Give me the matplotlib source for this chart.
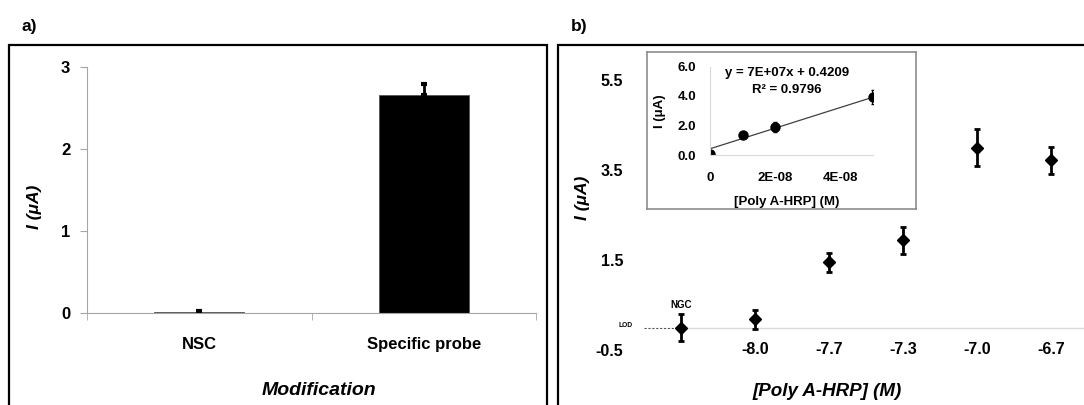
import numpy as np
import matplotlib
matplotlib.use('Agg')
import matplotlib.pyplot as plt
from matplotlib.patches import Rectangle

plt.rcParams['font.family'] = ['Liberation Sans', 'DejaVu Sans']
plt.rcParams['font.weight'] = 'bold'

# panel a data
mod_labels = ['NSC', 'Specific probe']
mod_values = [0.01, 2.65]
mod_err = [0.01, 0.14]

# panel b data
conc_labels = ['', '-8.0', '-7.7', '-7.3', '-7.0', '-6.7']
conc_values = [0.0, 0.18, 1.45, 1.94, 4.0, 3.72]
conc_err = [0.31, 0.21, 0.21, 0.30, 0.40, 0.30]

# inset data
lin_x = [0, 1e-8, 2e-8, 5e-8]
lin_y = [0.05, 1.36, 1.88, 3.93]
lin_err = [0.04, 0.08, 0.33, 0.45]
slope = 7e7
intercept = 0.4209

W, H = 1084, 405
fig = plt.figure(figsize=(W / 100, H / 100), dpi=100)


def box(x0, y0, x1, y1):
    # pixel box (top-left origin) -> figure fraction rect
    return [x0 / W, (H - y1) / H, (x1 - x0) / W, (y1 - y0) / H]


# panel frames
for x0, x1 in [(9, 547), (558, 1090)]:
    fig.patches.append(Rectangle((x0 / W, -0.1), (x1 - x0) / W, (H - 45) / H + 0.1,
                                 transform=fig.transFigure, fill=False,
                                 edgecolor='black', linewidth=1.6))
fig.text(22 / W, 1 - 26 / H, 'a)', fontsize=12.5, fontweight='bold', va='center')
fig.text(571 / W, 1 - 26 / H, 'b)', fontsize=12.5, fontweight='bold', va='center')

# ---- panel a ----
ax = fig.add_axes(box(87, 66.7, 536, 312.7))
xa = np.arange(len(mod_labels))
ax.bar(xa, mod_values, width=0.4, color='black', edgecolor='#555555', linewidth=0.6)
ax.errorbar(xa, mod_values, yerr=[[0, 0], mod_err], fmt='none', ecolor='black',
            elinewidth=2, capsize=2, capthick=3)
ax.set_xlim(-0.5, 1.5)
ax.set_ylim(0, 3)
ax.set_yticks([0, 1, 2, 3])
ax.set_xticks(xa)
ax.set_xticklabels(mod_labels)
ax.set_xticks([-0.5, 0.5, 1.5], minor=True)
for s in ['top', 'right']:
    ax.spines[s].set_visible(False)
for s in ['left', 'bottom']:
    ax.spines[s].set_color('#a6a6a6')
ax.tick_params(axis='y', colors='#a6a6a6', length=5, labelsize=12, labelcolor='black', pad=7)
ax.tick_params(axis='x', which='major', length=0, labelsize=12, pad=23)
ax.tick_params(axis='x', which='minor', colors='#a6a6a6', length=5)
for lbl in ax.get_xticklabels():
    lbl.set_va('center')
ax.set_ylabel('I (μA)', fontsize=12.5, fontstyle='italic', fontweight='bold')
ax.yaxis.set_label_coords(-0.10, 0.43)
ax.set_xlabel('Modification', fontsize=14, fontstyle='italic', fontweight='bold')
ax.xaxis.set_label_coords(0.517, -0.315)
ax.xaxis.label.set_va('center')

# ---- panel b ----
bx = fig.add_axes(box(644, 80, 1088, 350))
xb = np.arange(len(conc_labels))
bx.axhline(0, xmin=0.5 / 6, xmax=1, color='#d9d9d9', linewidth=1)
bx.axhline(0, xmin=0, xmax=0.5 / 6, color='#555555', linewidth=0.8, linestyle=(0, (2, 1.5)))
bx.errorbar(xb, conc_values, yerr=conc_err, fmt='D', color='black', ms=6.5,
            elinewidth=2, capsize=2, capthick=2)
bx.set_xlim(-0.5, 5.5)
bx.set_ylim(-0.5, 5.5)
bx.set_yticks([-0.5, 1.5, 3.5, 5.5])
bx.set_yticklabels(['-0.5', '1.5', '3.5', '5.5'])
bx.set_xticks(xb[1:])
bx.set_xticklabels(conc_labels[1:])
for s in bx.spines.values():
    s.set_visible(False)
bx.tick_params(axis='y', length=0, labelsize=11.5, pad=15)
bx.tick_params(axis='x', length=0, labelsize=11.5, pad=0)
for lbl in bx.get_xticklabels():
    lbl.set_va('center')
bx.set_ylabel('I (μA)', fontsize=12.5, fontstyle='italic', fontweight='bold')
bx.yaxis.set_label_coords(-0.122, 0.565)
bx.set_xlabel('[Poly A-HRP] (M)', fontsize=13.5, fontstyle='italic', fontweight='bold')
bx.xaxis.set_label_coords(0.412, -0.155)
bx.xaxis.label.set_va('center')
bx.annotate('NGC', (xb[0], conc_values[0]), xytext=(0, 16), textcoords='offset points',
            ha='center', va='center', fontsize=7, fontweight='bold')
bx.annotate('LOD', (-0.5, 0), xytext=(-13, 1.5), textcoords='offset points',
            ha='center', va='center', fontsize=4.8, fontweight='bold', annotation_clip=False)

# ---- inset ----
frame = fig.add_axes(box(647, 52, 916, 209))
frame.set_xticks([])
frame.set_yticks([])
for s in frame.spines.values():
    s.set_color('#8c8c8c')
    s.set_linewidth(1.2)

ix = fig.add_axes(box(710, 66.5, 873, 155))
ix.patch.set_alpha(0)
fit_x = np.array([min(lin_x), max(lin_x)])
ix.plot(fit_x, slope * fit_x + intercept, color='#404040', linewidth=0.9)
ix.errorbar(lin_x, lin_y, yerr=lin_err, fmt='o', color='black', ms=6.5,
            elinewidth=1.5, capsize=1.5)
ix.set_xlim(0, 5e-8)
ix.set_ylim(0, 6)
ix.set_yticks([0, 2, 4, 6])
ix.set_yticklabels(['0.0', '2.0', '4.0', '6.0'])
ix.set_xticks([0, 2e-8, 4e-8])
ix.set_xticklabels(['0', '2E-08', '4E-08'])
for s in ['top', 'right']:
    ix.spines[s].set_visible(False)
for s in ['left', 'bottom']:
    ix.spines[s].set_color('#d9d9d9')
ix.tick_params(length=0, labelsize=9.5)
ix.tick_params(axis='y', pad=10)
ix.tick_params(axis='x', pad=12)
ix.set_ylabel('I (μA)', fontsize=9.5, fontweight='bold')
ix.yaxis.set_label_coords(-0.27, 0.49)
ix.set_xlabel('[Poly A-HRP] (M)', fontsize=9.5, fontweight='bold')
ix.xaxis.set_label_coords(0.472, -0.53)
ix.xaxis.label.set_va('center')
ix.text(0.472, 0.927, 'y = 7E+07x + 0.4209', transform=ix.transAxes,
        ha='center', va='center', fontsize=9.5, fontweight='bold')
ix.text(0.472, 0.734, 'R² = 0.9796', transform=ix.transAxes,
        ha='center', va='center', fontsize=9.5, fontweight='bold')

fig.savefig('out.png', dpi=100)
